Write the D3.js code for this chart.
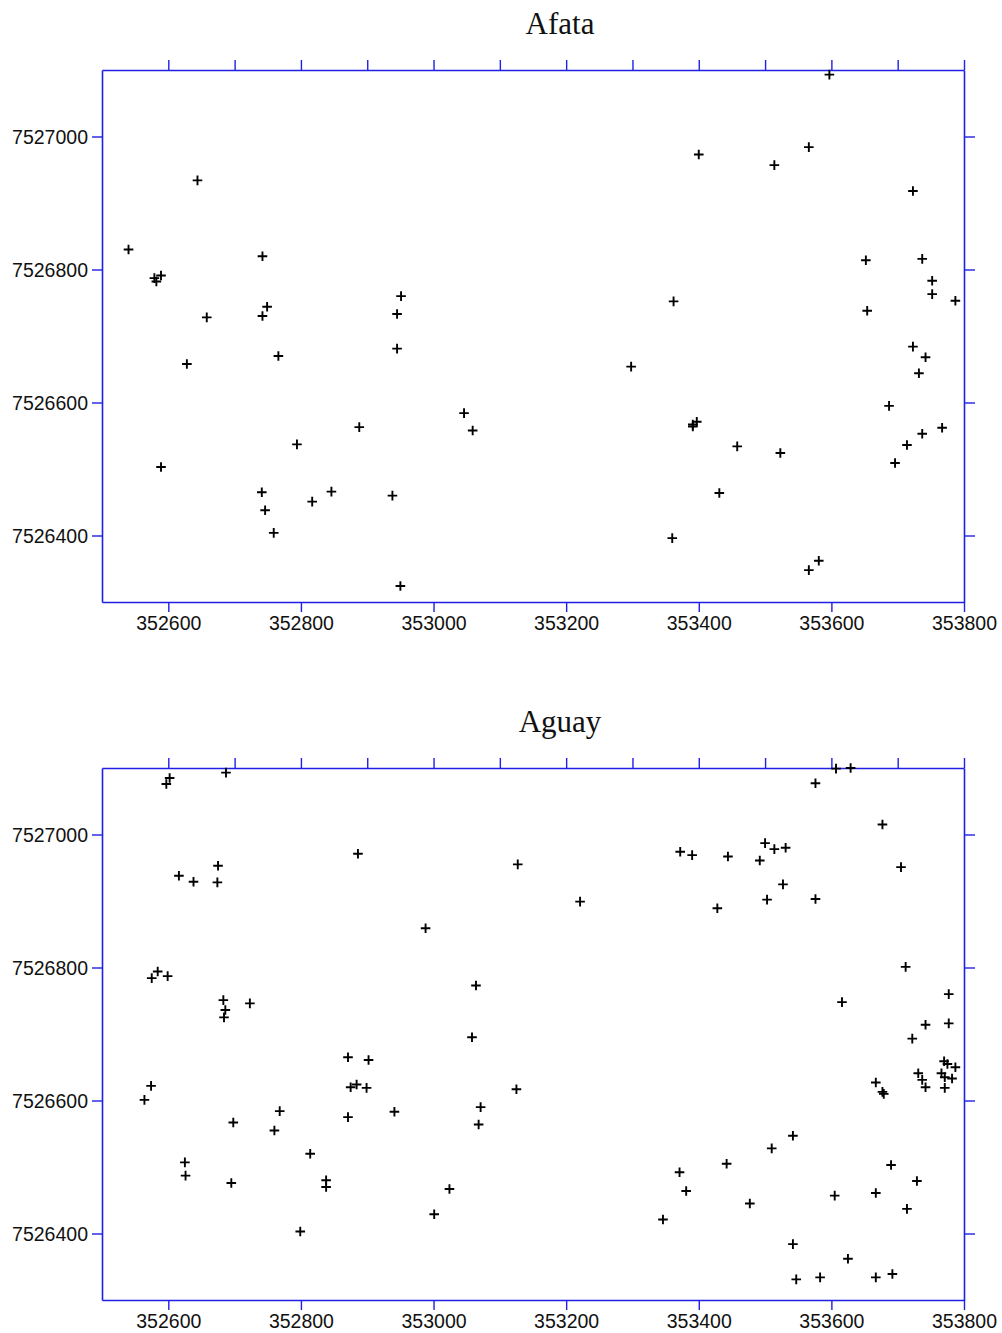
<!DOCTYPE html>
<html>
<head>
<meta charset="utf-8">
<script src="https://cdn.jsdelivr.net/npm/d3@7"></script>
<style>
  html, body { margin: 0; padding: 0; background: #fff; }
  svg { display: block; }
  .tick text { font-family: "Liberation Sans", Arial, sans-serif; font-size: 19.5px; fill: #111; }
  .title { font-family: "Liberation Serif", "Times New Roman", serif; font-size: 31px; fill: #111; }
</style>
</head>
<body>
<script>
// Sample locations (easting / northing, metres) for each site
const afataX = [352644, 352540, 352579, 352582, 352589, 352742, 352658, 352742, 352749, 352628,
  352766, 352794, 352589, 352741, 352746, 352759, 352817, 352846, 352951, 352945,
  352945, 352888, 353046, 353059, 353298, 352938, 352950, 353597, 353400, 353514,
  353566, 353723, 353652, 353737, 353752, 353752, 353787, 353654, 353362, 353723,
  353742, 353732, 353687, 353767, 353737, 353714, 353696, 353391, 353391, 353397,
  353458, 353431, 353523, 353360, 353581, 353566];
const afataY = [7526934, 7526830, 7526787, 7526782, 7526791, 7526820, 7526728, 7526730, 7526744, 7526658,
  7526670, 7526537, 7526503, 7526465, 7526438, 7526404, 7526451, 7526466, 7526760, 7526733,
  7526681, 7526563, 7526584, 7526558, 7526654, 7526460, 7526324, 7527093, 7526973, 7526957,
  7526984, 7526918, 7526814, 7526816, 7526783, 7526763, 7526753, 7526738, 7526752, 7526684,
  7526668, 7526644, 7526595, 7526562, 7526553, 7526536, 7526509, 7526564, 7526567, 7526571,
  7526534, 7526464, 7526524, 7526396, 7526362, 7526348];

const aguayX = [352602, 352597, 352687, 352616, 352638, 352675, 352674, 352575, 352584, 352599,
  352683, 352686, 352684, 352723, 352574, 352564, 352698, 352768, 352760, 352814,
  352625, 352626, 352695, 352838, 352838, 352799, 352886, 353127, 353221, 352988,
  353064, 352871, 352902, 352875, 352884, 352899, 352871, 352941, 353058, 353071,
  353068, 353125, 353024, 353001, 353607, 353629, 353576, 353677, 353372, 353390,
  353444, 353500, 353514, 353531, 353492, 353527, 353503, 353576, 353428, 353705,
  353712, 353616, 353777, 353777, 353742, 353722, 353770, 353775, 353787, 353731,
  353766, 353771, 353782, 353737, 353742, 353771, 353667, 353677, 353679, 353542,
  353510, 353442, 353371, 353381, 353477, 353346, 353605, 353690, 353729, 353667,
  353714, 353542, 353625, 353547, 353583, 353667, 353692];
const aguayY = [7527085, 7527076, 7527093, 7526938, 7526929, 7526953, 7526928, 7526784, 7526794, 7526787,
  7526751, 7526736, 7526725, 7526746, 7526622, 7526601, 7526567, 7526584, 7526555, 7526520,
  7526507, 7526487, 7526476, 7526480, 7526470, 7526403, 7526971, 7526955, 7526899, 7526859,
  7526773, 7526665, 7526661, 7526620, 7526624, 7526619, 7526575, 7526583, 7526695, 7526590,
  7526564, 7526617, 7526467, 7526429, 7527099, 7527100, 7527077, 7527015, 7526974, 7526969,
  7526967, 7526987, 7526978, 7526980, 7526961, 7526925, 7526902, 7526903, 7526889, 7526951,
  7526801, 7526748, 7526760, 7526716, 7526714, 7526693, 7526659, 7526655, 7526650, 7526641,
  7526641, 7526635, 7526633, 7526631, 7526620, 7526619, 7526627, 7526613, 7526610, 7526547,
  7526528, 7526505, 7526492, 7526464, 7526445, 7526421, 7526457, 7526503, 7526479, 7526461,
  7526437, 7526384, 7526362, 7526331, 7526334, 7526334, 7526339];

const panels = [
  { title: "Afata", xs: afataX, ys: afataY },
  { title: "Aguay", xs: aguayX, ys: aguayY }
];

const xDomain = [352500, 353800];
const yDomain = [7526300, 7527100];
const xLabelTicks = [352600, 352800, 353000, 353200, 353400, 353600, 353800];
const xMinorTicks = d3.range(352600, 353801, 100);
const yLabelTicks = [7526400, 7526600, 7526800, 7527000];

const W = 1002, H = 1333;
const left = 102, right = 964, plotH = 532;
const panelTops = [70, 768];
const axisColor = "#1f1fe6";

const svg = d3.select("body").append("svg")
  .attr("width", W).attr("height", H);

const x = d3.scaleLinear().domain(xDomain).range([left, right]);

panels.forEach((p, i) => {
  const top = panelTops[i];
  const y = d3.scaleLinear().domain(yDomain).range([top + plotH, top]);
  const g = svg.append("g");

  // title
  g.append("text").attr("class", "title")
    .attr("x", 560).attr("y", top - 36)
    .attr("text-anchor", "middle")
    .text(p.title);

  // axes
  const bottomAxis = d3.axisBottom(x).tickValues(xLabelTicks).tickFormat(d3.format("d"))
    .tickSize(10).tickSizeOuter(0).tickPadding(4);
  const topAxis = d3.axisTop(x).tickValues(xMinorTicks).tickFormat("")
    .tickSize(10).tickSizeOuter(0);
  const leftAxis = d3.axisLeft(y).tickValues(yLabelTicks).tickFormat(d3.format("d"))
    .tickSize(10).tickSizeOuter(0).tickPadding(4);
  const rightAxis = d3.axisRight(y).tickValues(yLabelTicks).tickFormat("")
    .tickSize(11).tickSizeOuter(0);

  const gb = g.append("g").attr("transform", `translate(0,${top + plotH})`).call(bottomAxis);
  const gt = g.append("g").attr("transform", `translate(0,${top})`).call(topAxis);
  const gl = g.append("g").attr("transform", `translate(${left},0)`).call(leftAxis);
  const gr = g.append("g").attr("transform", `translate(${right},0)`).call(rightAxis);

  [gb, gt, gl, gr].forEach(a => {
    a.select(".domain").attr("stroke", axisColor).attr("stroke-width", 1.6);
    a.selectAll(".tick line").attr("stroke", axisColor).attr("stroke-width", 1.4);
  });
  gb.selectAll(".tick text").attr("dy", "0.72em");
  gl.selectAll(".tick text").attr("dy", "0.35em");

  // sample markers
  const pts = p.xs.map((v, k) => [v, p.ys[k]]);
  g.append("g").selectAll("path").data(pts).join("path")
    .attr("transform", d => `translate(${x(d[0])},${y(d[1])})`)
    .attr("d", "M-4.8,0H4.8M0,-4.8V4.8")
    .attr("stroke", "#000").attr("stroke-width", 1.9)
    .attr("fill", "none");
});
</script>
</body>
</html>
